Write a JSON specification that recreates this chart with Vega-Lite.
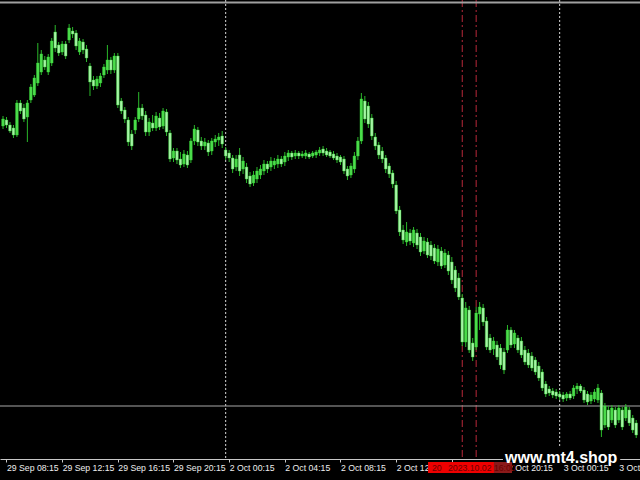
{
"$schema": "https://vega.github.io/schema/vega-lite/v6.json",
"width": 640, "height": 459,
"autosize": {"type": "none"},
"padding": {"left": 0, "top": 0, "right": 0, "bottom": 21},
"background": "#000000",
"config": {"view": {"stroke": null}},
"datasets": {
"candles": [
{"i":0,"o":126,"h":116,"l":129,"c":119},{"i":1,"o":120,"h":117,"l":128,"c":125},{"i":2,"o":125,"h":122,"l":133,"c":131},{"i":3,"o":128,"h":125,"l":138,"c":135},{"i":4,"o":135,"h":100,"l":137,"c":103},{"i":5,"o":103,"h":100,"l":114,"c":111},{"i":6,"o":108,"h":104,"l":122,"c":119},{"i":7,"o":117,"h":100,"l":142,"c":103},{"i":8,"o":100,"h":84,"l":103,"c":87},{"i":9,"o":95,"h":75,"l":97,"c":78},
{"i":10,"o":83,"h":43,"l":86,"c":63},{"i":11,"o":72,"h":50,"l":75,"c":54},{"i":12,"o":60,"h":56,"l":70,"c":67},{"i":13,"o":72,"h":54,"l":75,"c":57},{"i":14,"o":63,"h":38,"l":66,"c":41},{"i":15,"o":32,"h":25,"l":52,"c":48},{"i":16,"o":45,"h":42,"l":56,"c":53},{"i":17,"o":52,"h":41,"l":55,"c":44},{"i":18,"o":44,"h":41,"l":59,"c":56},{"i":19,"o":40,"h":24,"l":43,"c":28},
{"i":20,"o":31,"h":27,"l":38,"c":34},{"i":21,"o":33,"h":30,"l":50,"c":46},{"i":22,"o":52,"h":38,"l":55,"c":41},{"i":23,"o":42,"h":39,"l":54,"c":50},{"i":24,"o":49,"h":45,"l":62,"c":58},{"i":25,"o":66,"h":63,"l":96,"c":82},{"i":26,"o":80,"h":76,"l":90,"c":86},{"i":27,"o":86,"h":76,"l":89,"c":79},{"i":28,"o":83,"h":73,"l":87,"c":76},{"i":29,"o":75,"h":64,"l":78,"c":67},
{"i":30,"o":70,"h":45,"l":74,"c":60},{"i":31,"o":60,"h":57,"l":74,"c":70},{"i":32,"o":70,"h":53,"l":73,"c":56},{"i":33,"o":56,"h":53,"l":108,"c":105},{"i":34,"o":101,"h":98,"l":114,"c":111},{"i":35,"o":110,"h":107,"l":123,"c":119},{"i":36,"o":120,"h":117,"l":146,"c":142},{"i":37,"o":134,"h":130,"l":150,"c":146},{"i":38,"o":130,"h":117,"l":134,"c":120},{"i":39,"o":119,"h":92,"l":122,"c":108},
{"i":40,"o":108,"h":104,"l":120,"c":116},{"i":41,"o":115,"h":111,"l":136,"c":132},{"i":42,"o":132,"h":118,"l":136,"c":122},{"i":43,"o":123,"h":115,"l":131,"c":128},{"i":44,"o":128,"h":112,"l":131,"c":116},{"i":45,"o":118,"h":113,"l":130,"c":127},{"i":46,"o":126,"h":108,"l":129,"c":111},{"i":47,"o":112,"h":109,"l":136,"c":132},{"i":48,"o":133,"h":130,"l":162,"c":159},{"i":49,"o":158,"h":148,"l":162,"c":151},
{"i":50,"o":151,"h":148,"l":164,"c":160},{"i":51,"o":159,"h":152,"l":168,"c":165},{"i":52,"o":164,"h":150,"l":167,"c":154},{"i":53,"o":155,"h":151,"l":168,"c":165},{"i":54,"o":160,"h":138,"l":163,"c":141},{"i":55,"o":141,"h":125,"l":145,"c":129},{"i":56,"o":130,"h":127,"l":146,"c":142},{"i":57,"o":141,"h":137,"l":150,"c":146},{"i":58,"o":146,"h":138,"l":150,"c":142},{"i":59,"o":143,"h":140,"l":156,"c":152},
{"i":60,"o":151,"h":138,"l":155,"c":141},{"i":61,"o":142,"h":135,"l":147,"c":139},{"i":62,"o":140,"h":133,"l":146,"c":137},{"i":63,"o":136,"h":131,"l":148,"c":144},{"i":64,"o":150,"h":147,"l":160,"c":156},{"i":65,"o":153,"h":150,"l":162,"c":158},{"i":66,"o":158,"h":155,"l":173,"c":169},{"i":67,"o":167,"h":155,"l":171,"c":159},{"i":68,"o":155,"h":148,"l":176,"c":171},{"i":69,"o":169,"h":157,"l":174,"c":161},
{"i":70,"o":167,"h":163,"l":183,"c":179},{"i":71,"o":176,"h":172,"l":187,"c":184},{"i":72,"o":183,"h":171,"l":186,"c":175},{"i":73,"o":179,"h":167,"l":183,"c":171},{"i":74,"o":175,"h":165,"l":179,"c":169},{"i":75,"o":171,"h":160,"l":175,"c":164},{"i":76,"o":164,"h":161,"l":173,"c":169},{"i":77,"o":167,"h":157,"l":171,"c":161},{"i":78,"o":165,"h":158,"l":169,"c":161},{"i":79,"o":164,"h":155,"l":168,"c":159},
{"i":80,"o":159,"h":156,"l":167,"c":164},{"i":81,"o":162,"h":152,"l":166,"c":156},{"i":82,"o":157,"h":150,"l":161,"c":153},{"i":83,"o":153,"h":151,"l":160,"c":157},{"i":84,"o":156,"h":150,"l":159,"c":153},{"i":85,"o":153,"h":151,"l":159,"c":156},{"i":86,"o":156,"h":151,"l":158,"c":154},{"i":87,"o":156,"h":150,"l":159,"c":153},{"i":88,"o":154,"h":152,"l":159,"c":157},{"i":89,"o":156,"h":151,"l":158,"c":153},
{"i":90,"o":155,"h":150,"l":158,"c":152},{"i":91,"o":153,"h":147,"l":156,"c":150},{"i":92,"o":149,"h":146,"l":156,"c":153},{"i":93,"o":151,"h":148,"l":157,"c":155},{"i":94,"o":152,"h":150,"l":158,"c":156},{"i":95,"o":154,"h":151,"l":160,"c":158},{"i":96,"o":156,"h":153,"l":163,"c":160},{"i":97,"o":157,"h":155,"l":165,"c":162},{"i":98,"o":159,"h":156,"l":174,"c":171},{"i":99,"o":169,"h":166,"l":180,"c":176},
{"i":100,"o":175,"h":163,"l":178,"c":166},{"i":101,"o":169,"h":152,"l":173,"c":156},{"i":102,"o":156,"h":137,"l":160,"c":141},{"i":103,"o":141,"h":93,"l":144,"c":99},{"i":104,"o":101,"h":96,"l":123,"c":119},{"i":105,"o":106,"h":102,"l":128,"c":124},{"i":106,"o":118,"h":114,"l":140,"c":136},{"i":107,"o":137,"h":133,"l":150,"c":146},{"i":108,"o":145,"h":142,"l":159,"c":155},{"i":109,"o":151,"h":147,"l":163,"c":159},
{"i":110,"o":158,"h":155,"l":173,"c":169},{"i":111,"o":166,"h":163,"l":178,"c":174},{"i":112,"o":173,"h":170,"l":188,"c":184},{"i":113,"o":185,"h":181,"l":214,"c":211},{"i":114,"o":210,"h":206,"l":236,"c":232},{"i":115,"o":230,"h":225,"l":244,"c":240},{"i":116,"o":242,"h":222,"l":246,"c":232},{"i":117,"o":233,"h":229,"l":245,"c":241},{"i":118,"o":243,"h":227,"l":247,"c":230},{"i":119,"o":233,"h":229,"l":249,"c":245},
{"i":120,"o":237,"h":233,"l":256,"c":252},{"i":121,"o":251,"h":237,"l":254,"c":241},{"i":122,"o":242,"h":238,"l":258,"c":255},{"i":123,"o":245,"h":241,"l":260,"c":256},{"i":124,"o":248,"h":244,"l":264,"c":261},{"i":125,"o":262,"h":245,"l":266,"c":249},{"i":126,"o":251,"h":247,"l":269,"c":266},{"i":127,"o":265,"h":249,"l":268,"c":253},{"i":128,"o":255,"h":251,"l":275,"c":271},{"i":129,"o":262,"h":257,"l":284,"c":280},
{"i":130,"o":270,"h":266,"l":292,"c":288},{"i":131,"o":278,"h":273,"l":300,"c":297},{"i":132,"o":298,"h":294,"l":346,"c":342},{"i":133,"o":342,"h":302,"l":347,"c":308},{"i":134,"o":310,"h":306,"l":353,"c":350},{"i":135,"o":343,"h":338,"l":361,"c":357},{"i":136,"o":347,"h":307,"l":350,"c":313},{"i":137,"o":314,"h":302,"l":330,"c":307},{"i":138,"o":308,"h":304,"l":326,"c":322},{"i":139,"o":321,"h":317,"l":350,"c":347},
{"i":140,"o":338,"h":334,"l":353,"c":350},{"i":141,"o":349,"h":337,"l":355,"c":341},{"i":142,"o":345,"h":341,"l":360,"c":357},{"i":143,"o":348,"h":344,"l":369,"c":365},{"i":144,"o":352,"h":348,"l":374,"c":370},{"i":145,"o":350,"h":325,"l":353,"c":330},{"i":146,"o":330,"h":327,"l":348,"c":345},{"i":147,"o":344,"h":330,"l":348,"c":333},{"i":148,"o":338,"h":335,"l":353,"c":350},{"i":149,"o":341,"h":337,"l":358,"c":355},
{"i":150,"o":350,"h":346,"l":365,"c":362},{"i":151,"o":353,"h":349,"l":368,"c":365},{"i":152,"o":356,"h":352,"l":371,"c":368},{"i":153,"o":360,"h":357,"l":375,"c":372},{"i":154,"o":366,"h":362,"l":381,"c":378},{"i":155,"o":372,"h":369,"l":391,"c":388},{"i":156,"o":384,"h":381,"l":397,"c":394},{"i":157,"o":389,"h":386,"l":396,"c":393},{"i":158,"o":391,"h":388,"l":398,"c":395},{"i":159,"o":392,"h":389,"l":399,"c":396},
{"i":160,"o":394,"h":391,"l":400,"c":397},{"i":161,"o":395,"h":392,"l":402,"c":399},{"i":162,"o":398,"h":392,"l":401,"c":394},{"i":163,"o":394,"h":391,"l":400,"c":398},{"i":164,"o":396,"h":385,"l":399,"c":388},{"i":165,"o":389,"h":383,"l":394,"c":386},{"i":166,"o":386,"h":384,"l":393,"c":391},{"i":167,"o":390,"h":387,"l":403,"c":400},{"i":168,"o":394,"h":391,"l":405,"c":402},{"i":169,"o":401,"h":392,"l":404,"c":395},
{"i":170,"o":399,"h":389,"l":402,"c":392},{"i":171,"o":400,"h":384,"l":403,"c":388},{"i":172,"o":393,"h":390,"l":437,"c":430},{"i":173,"o":425,"h":403,"l":428,"c":406},{"i":174,"o":410,"h":406,"l":430,"c":427},{"i":175,"o":420,"h":405,"l":423,"c":408},{"i":176,"o":410,"h":407,"l":428,"c":425},{"i":177,"o":420,"h":405,"l":423,"c":408},{"i":178,"o":410,"h":407,"l":430,"c":427},{"i":179,"o":418,"h":404,"l":421,"c":407},
{"i":180,"o":410,"h":407,"l":426,"c":423},{"i":181,"o":418,"h":415,"l":433,"c":430},{"i":182,"o":423,"h":420,"l":438,"c":435}
],
"days": [{"i":64},{"i":160}],
"marks": [{"i":132},{"i":136}],
"levels": [{"p":406,"w":1,"col":"#a8a8a8"},{"p":2.5,"w":2,"col":"#a0a0a0"}],
"boxes": [
{"x1":143.7,"x2":177.4,"y1":446,"y2":463.5,"col":"#000000"},
{"x1":122.16,"x2":146.3,"y1":462,"y2":473,"col":"#ee0000"},
{"x1":141.1,"x2":146.3,"y1":462,"y2":473,"col":"#8a1a1a"}
],
"watermark": [{"x":144.3,"y":463,"t":"www.mt4.shop"}],
"timelabel": [{"x":123.3,"y":471,"t":"20"},{"x":127.9,"y":471,"t":"2023.10.02 16:00"}]
},
"layer": [
{"data": {"name": "days"}, "mark": {"type": "rule", "color": "#d8d8d8", "strokeDash": [2, 2], "strokeWidth": 1},
 "encoding": {"x": {"field": "i", "type": "quantitative", "scale": {"domain": [-0.868, 183.09], "nice": false, "zero": false, "padding": 0},
   "axis": {"values": [1,17,33,49,65,81,97,113,129,145,161,177], "orient": "bottom",
     "labelExpr": "['29 Sep 08:15','29 Sep 12:15','29 Sep 16:15','29 Sep 20:15','2 Oct 00:15','2 Oct 04:15','2 Oct 08:15','2 Oct 12:15','2 Oct 16:15','2 Oct 20:15','3 Oct 00:15','3 Oct 04:15'][(datum.value-1)/16]",
     "title": null, "grid": false, "domainColor": "#c8c8c8", "tickColor": "#c8c8c8", "tickSize": 3,
     "labelColor": "#eeeeee", "labelFont": "Liberation Sans", "labelFontSize": 8.7, "labelAlign": "left", "labelPadding": 1,
     "labelOverlap": false, "labelBound": false, "labelFlush": false}}}},
{"data": {"name": "marks"}, "mark": {"type": "rule", "color": "#b8283a", "strokeDash": [7, 3, 2, 3], "strokeWidth": 1},
 "encoding": {"x": {"field": "i", "type": "quantitative"}}},
{"data": {"name": "levels"}, "mark": {"type": "rule"},
 "encoding": {"y": {"field": "p", "type": "quantitative", "scale": {"domain": [0, 459], "reverse": true, "nice": false, "zero": false, "padding": 0}, "axis": null},
   "color": {"field": "col", "type": "nominal", "scale": null}, "strokeWidth": {"field": "w", "type": "quantitative", "scale": null}}},
{"data": {"name": "candles"}, "mark": {"type": "rule", "color": "#2ab82a", "strokeWidth": 1},
 "encoding": {"x": {"field": "i", "type": "quantitative"}, "y": {"field": "h", "type": "quantitative"}, "y2": {"field": "l"}}},
{"data": {"name": "candles"}, "mark": {"type": "bar", "width": 2.7, "stroke": "#33d633", "strokeWidth": 0.4},
 "encoding": {"x": {"field": "i", "type": "quantitative"}, "y": {"field": "o", "type": "quantitative"}, "y2": {"field": "c"},
   "color": {"condition": {"test": "datum.c < datum.o", "value": "#4cdc4c"}, "value": "#a6f4a6"}}},
{"data": {"name": "boxes"}, "mark": {"type": "rect"},
 "encoding": {"x": {"field": "x1", "type": "quantitative"}, "x2": {"field": "x2"}, "y": {"field": "y1", "type": "quantitative"}, "y2": {"field": "y2"},
   "color": {"field": "col", "type": "nominal", "scale": null}}},
{"data": {"name": "watermark"}, "mark": {"type": "text", "align": "left", "baseline": "alphabetic", "font": "Liberation Sans", "fontWeight": "bold", "fontSize": 16, "color": "#ffffff"},
 "encoding": {"x": {"field": "x", "type": "quantitative"}, "y": {"field": "y", "type": "quantitative"}, "text": {"field": "t"}}},
{"data": {"name": "timelabel"}, "mark": {"type": "text", "align": "left", "baseline": "alphabetic", "font": "Liberation Sans", "fontSize": 8.7, "color": "#6a0000"},
 "encoding": {"x": {"field": "x", "type": "quantitative"}, "y": {"field": "y", "type": "quantitative"}, "text": {"field": "t"}}}
]
}
